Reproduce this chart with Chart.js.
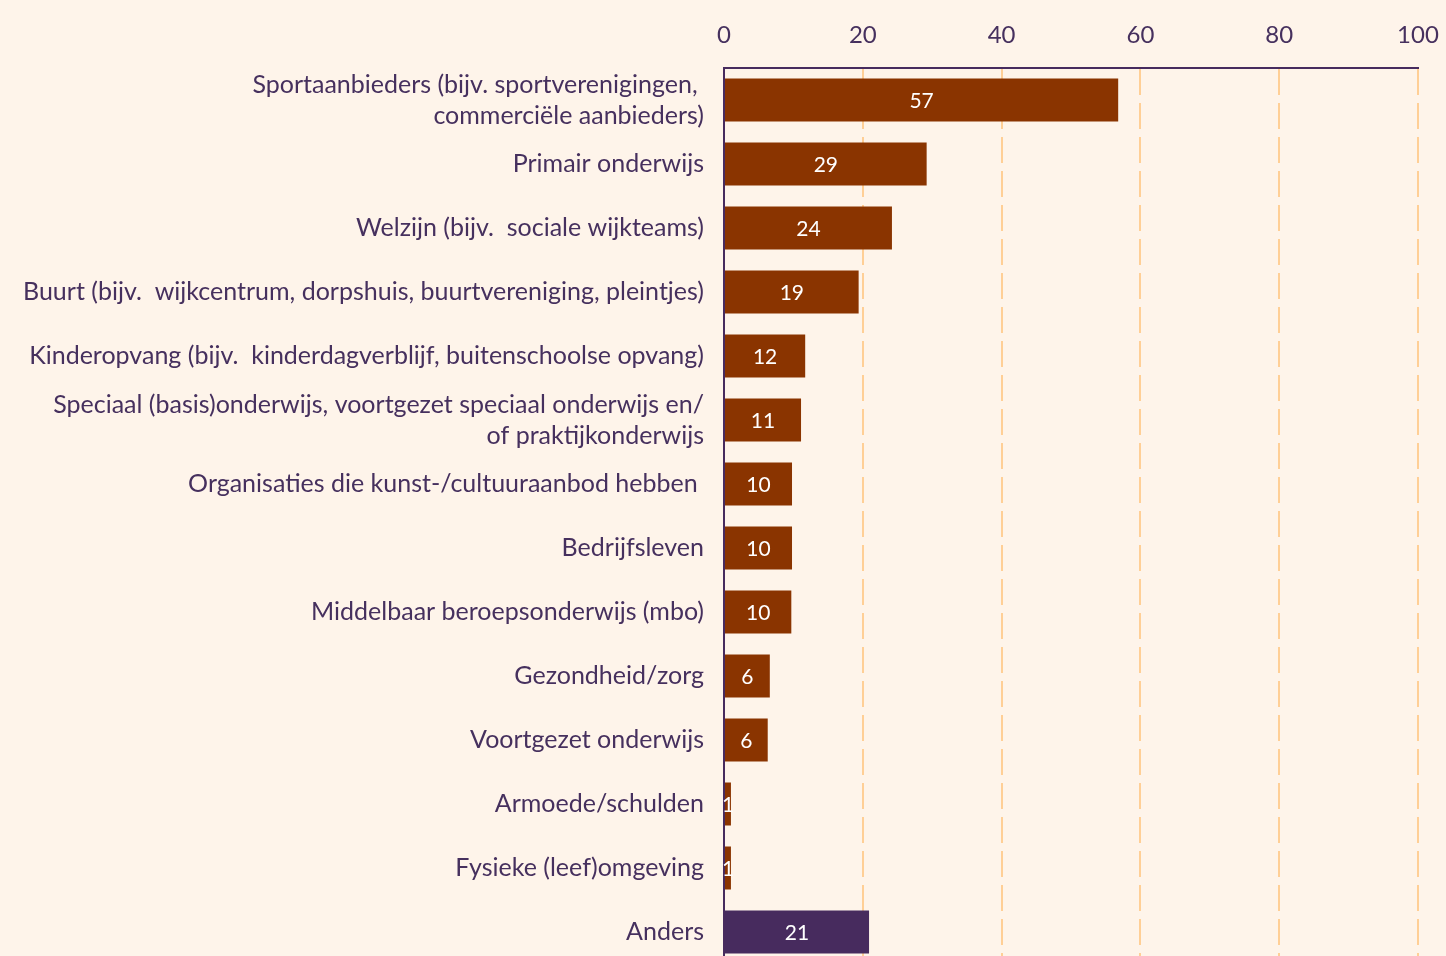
<!DOCTYPE html>
<html>
<head>
<meta charset="utf-8">
<script src="https://cdn.jsdelivr.net/npm/chart.js@4"></script>
<style>
  html, body { margin: 0; padding: 0; background: #FEF4EA; overflow: hidden; }
  canvas { display: block; }
</style>
</head>
<body>
<canvas id="c" width="1446" height="964" style="width:1446px;height:964px"></canvas>
<script>
const categories = [
  ["Sportaanbieders (bijv. sportverenigingen, ", "commerciële aanbieders)"],
  "Primair onderwijs",
  "Welzijn (bijv.  sociale wijkteams)",
  "Buurt (bijv.  wijkcentrum, dorpshuis, buurtvereniging, pleintjes)",
  "Kinderopvang (bijv.  kinderdagverblijf, buitenschoolse opvang)",
  ["Speciaal (basis)onderwijs, voortgezet speciaal onderwijs en/", "of praktijkonderwijs"],
  "Organisaties die kunst-/cultuuraanbod hebben ",
  "Bedrijfsleven",
  "Middelbaar beroepsonderwijs (mbo)",
  "Gezondheid/zorg",
  "Voortgezet onderwijs",
  "Armoede/schulden",
  "Fysieke (leef)omgeving",
  "Anders"
];
const values = [56.8, 29.2, 24.2, 19.4, 11.7, 11.1, 9.8, 9.8, 9.7, 6.6, 6.3, 1.0, 1.0, 20.9];
const valueLabels = ["57", "29", "24", "19", "12", "11", "10", "10", "10", "6", "6", "1", "1", "21"];
const xTicks = [0, 20, 40, 60, 80, 100];

const BROWN = "#8A3400";
const PURPLE = "#472B5E";
const TEXT = "#46305E";
const GRID = "#FFCF96";

const barColors = categories.map((c, i) => i === categories.length - 1 ? PURPLE : BROWN);

const valueLabelPlugin = {
  id: "valueLabels",
  afterDatasetsDraw(chart) {
    const ctx = chart.ctx;
    const meta = chart.getDatasetMeta(0);
    ctx.save();
    ctx.font = "21px Lato";
    ctx.fillStyle = "#FFFFFF";
    ctx.textAlign = "center";
    ctx.textBaseline = "middle";
    meta.data.forEach((bar, i) => {
      const x = (bar.x + bar.base) / 2;
      ctx.fillText(valueLabels[i], x, bar.y + 1.5);
    });
    ctx.restore();
  }
};

new Chart(document.getElementById("c"), {
  type: "bar",
  data: {
    labels: categories,
    datasets: [{
      data: values,
      backgroundColor: barColors,
      borderWidth: 0,
      barPercentage: 0.672,
      categoryPercentage: 1.0
    }]
  },
  options: {
    indexAxis: "y",
    responsive: false,
    animation: false,
    layout: { padding: { left: 0, right: 28, top: 0, bottom: 0 } },
    plugins: { legend: { display: false }, tooltip: { enabled: false } },
    scales: {
      x: {
        position: "top",
        min: 0,
        max: 100,
        afterBuildTicks(axis) { axis.ticks = xTicks.map(v => ({ value: v })); },
        afterFit(axis) { axis.height = 68; axis.paddingLeft = 0; axis.paddingRight = 0; },
        ticks: {
          color: TEXT,
          font: { family: "Lato", size: 24 },
          padding: 18,
          maxRotation: 0
        },
        grid: {
          display: true,
          drawTicks: false,
          color: (ctx) => ctx.index === 0 ? "rgba(0,0,0,0)" : GRID,
          lineWidth: 2
        },
        border: { display: true, color: PURPLE, width: 2, dash: [26, 8] }
      },
      y: {
        z: 1,
        afterFit(axis) { axis.width = 724; axis.paddingTop = 0; axis.paddingBottom = 0; },
        ticks: {
          color: TEXT,
          autoSkip: false,
          font: { family: "Lato", size: 25, lineHeight: 1.24 },
          padding: 20
        },
        grid: { display: false, drawTicks: false },
        border: { display: true, color: PURPLE, width: 2 }
      }
    }
  },
  plugins: [valueLabelPlugin]
});
</script>
</body>
</html>
